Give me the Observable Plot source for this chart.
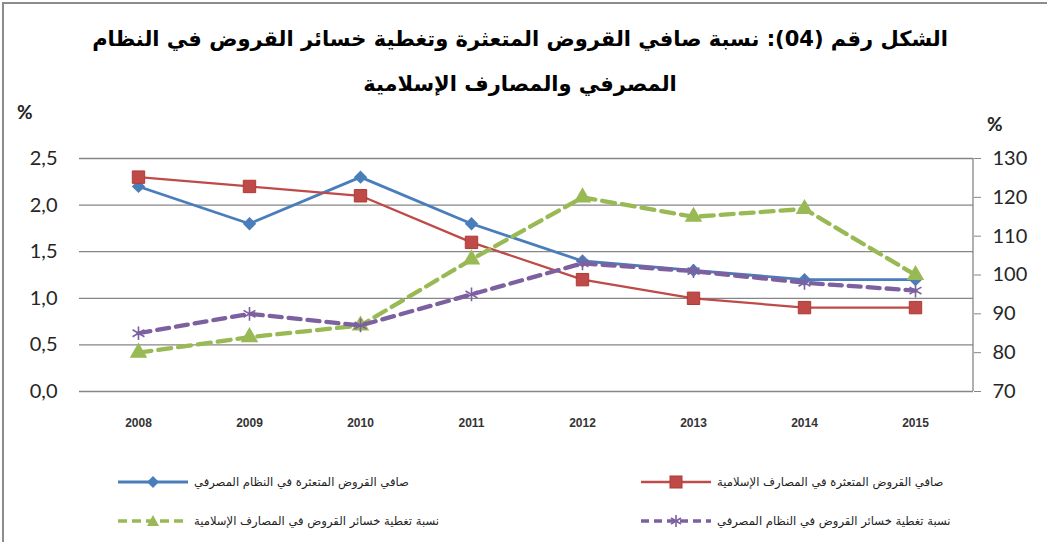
<!DOCTYPE html>
<html><head><meta charset="utf-8">
<script src="https://cdn.jsdelivr.net/npm/d3@7"></script>
<script src="https://cdn.jsdelivr.net/npm/@observablehq/plot@0.6"></script>
<style>
body{margin:0;background:#fff;}
#wrap{position:relative;width:1047px;height:542px;overflow:hidden;background:#fff;}
#frame{position:absolute;left:2px;top:2px;width:1100px;height:600px;border-top:2px solid #8c8c8c;border-left:2px solid #8c8c8c;}
.title{position:absolute;left:0;width:1040px;text-align:center;font-family:"DejaVu Sans";font-weight:bold;font-size:21px;color:#000;direction:rtl;white-space:nowrap;}
.pct{position:absolute;font-family:Lato,"Open Sans",sans-serif;font-weight:bold;font-size:19px;color:#222;}
#chart{position:absolute;left:0;top:100px;}
.leg{position:absolute;display:flex;align-items:center;font-family:"DejaVu Sans";font-size:11.6px;color:#222;white-space:nowrap;}
.leg span{direction:rtl;margin-left:6px;}
</style></head>
<body><div id="wrap">
<div id="frame"></div>
<div class="title" id="t1" style="top:27px"></div>
<div class="title" id="t2" style="top:72px"></div>
<div class="pct" style="left:17px;top:100px">%</div>
<div class="pct" style="left:987px;top:112px">%</div>
<div id="chart"></div>
<div id="legend"></div>
</div>
<script>
const titleLines = ["الشكل رقم (04): نسبة صافي القروض المتعثرة وتغطية خسائر القروض في النظام", "المصرفي والمصارف الإسلامية"];
const years = ["2008","2009","2010","2011","2012","2013","2014","2015"];
const bankNPL = [2.2, 1.8, 2.3, 1.8, 1.4, 1.3, 1.2, 1.2];
const islamicNPL = [2.3, 2.2, 2.1, 1.6, 1.2, 1.0, 0.9, 0.9];
const islamicCoverage = [80, 84, 87, 104, 120, 115, 117, 100];
const bankCoverage = [85, 90, 87, 95, 103, 101, 98, 96];
const leftTicks = [0, 0.5, 1, 1.5, 2, 2.5];
const rightTicks = [70, 80, 90, 100, 110, 120, 130];
const seriesNames = [
  "صافي القروض المتعثرة في النظام المصرفي",
  "صافي القروض المتعثرة في المصارف الإسلامية",
  "نسبة تغطية خسائر القروض في المصارف الإسلامية",
  "نسبة تغطية خسائر القروض في النظام المصرفي"
];
const colors = ["#4a7ebb", "#be4b48", "#98b954", "#7d60a0"];

document.getElementById("t1").textContent = titleLines[0];
document.getElementById("t2").textContent = titleLines[1];

const rMin = rightTicks[0], rMax = rightTicks[rightTicks.length - 1];
const lMax = leftTicks[leftTicks.length - 1];
const toLeft = v => (v - rMin) / (rMax - rMin) * lMax;
const fromLeft = v => Math.round(v / lMax * (rMax - rMin) + rMin);
const rows = (vals, right) => years.map((y, i) => ({year: y, v: right ? toLeft(vals[i]) : vals[i]}));

const s1 = rows(bankNPL, false), s2 = rows(islamicNPL, false), s3 = rows(islamicCoverage, true), s4 = rows(bankCoverage, true);

const rightAxisLine = (index, scales, values, dims) => {
  const x = dims.width - dims.marginRight;
  return d3.create("svg:line").attr("x1", x).attr("x2", x)
    .attr("y1", dims.marginTop).attr("y2", dims.height - dims.marginBottom)
    .attr("stroke", "#868686").attr("stroke-width", 1.3).node();
};

const plot = Plot.plot({
  width: 1047, height: 340,
  marginTop: 58, marginBottom: 49, marginLeft: 79, marginRight: 74,
  x: {type: "point", domain: years, padding: 0.5},
  y: {domain: [0, lMax]},
  style: {background: "transparent", overflow: "visible", fontFamily: "Lato, 'Open Sans', sans-serif", fontSize: "20px", color: "#262626"},
  marks: [
    Plot.ruleY(leftTicks, {stroke: "#868686", strokeWidth: 1.3}),
    rightAxisLine,
    Plot.axisX({tickSize: 0, tickPadding: 27, fontSize: 12, fontWeight: "bold", fontFamily: "Liberation Sans", label: null, fill: "#333"}),
    Plot.axisY(leftTicks, {anchor: "left", tickSize: 0, tickPadding: 22, label: null, tickFormat: d => d.toFixed(1).replace(".", ","), fill: "#262626"}),
    Plot.axisY(rightTicks.map(toLeft), {anchor: "right", tickSize: 7, tickPadding: 12, label: null, tickFormat: fromLeft, stroke: "#868686", fill: "#262626"}),
    Plot.line(s1, {x: "year", y: "v", stroke: colors[0], strokeWidth: 2.8}),
    Plot.dot(s1, {x: "year", y: "v", symbol: "diamond2", fill: colors[0], r: 6}),
    Plot.line(s2, {x: "year", y: "v", stroke: colors[1], strokeWidth: 2.3}),
    Plot.dot(s2, {x: "year", y: "v", symbol: "square", fill: colors[1], stroke: "#b03a37", strokeWidth: 1, r: 7}),
    Plot.line(s3, {x: "year", y: "v", stroke: colors[2], strokeWidth: 4.3, strokeDasharray: "13,7"}),
    Plot.dot(s3, {x: "year", y: "v", symbol: "triangle", fill: colors[2], r: 6.5}),
    Plot.line(s4, {x: "year", y: "v", stroke: colors[3], strokeWidth: 4.3, strokeDasharray: "12,7"}),
    Plot.dot(s4, {x: "year", y: "v", symbol: "asterisk", stroke: colors[3], strokeWidth: 1.6, r: 6.5})
  ]
});
document.getElementById("chart").appendChild(plot);

// legend
const legPos = [[118, 472], [641, 472], [118, 511], [641, 511]];
const swatch = (i) => {
  const c = colors[i];
  const dash = i >= 2 ? ` stroke-dasharray="${i === 2 ? "9,5" : "8,5"}"` : "";
  const w = i >= 2 ? 3.5 : (i === 0 ? 2.8 : 2.3);
  let m = "";
  if (i === 0) m = `<polygon points="35,4 41,10 35,16 29,10" fill="${c}"/>`;
  if (i === 1) m = `<rect x="29" y="4" width="12" height="12" fill="${c}" stroke="#b03a37"/>`;
  if (i === 2) m = `<polygon points="35,4 41,15 29,15" fill="${c}"/>`;
  if (i === 3) m = `<g stroke="${c}" stroke-width="1.6"><line x1="35" y1="4" x2="35" y2="16"/><line x1="30" y1="7" x2="40" y2="13"/><line x1="30" y1="13" x2="40" y2="7"/></g>`;
  return `<svg width="70" height="20"><line x1="0" y1="10" x2="70" y2="10" stroke="${c}" stroke-width="${w}"${dash}/>${m}</svg>`;
};
const legend = document.getElementById("legend");
seriesNames.forEach((name, i) => {
  const d = document.createElement("div");
  d.className = "leg";
  d.style.left = legPos[i][0] + "px";
  d.style.top = legPos[i][1] + "px";
  d.innerHTML = swatch(i);
  const sp = document.createElement("span");
  sp.textContent = name;
  d.appendChild(sp);
  legend.appendChild(d);
});
</script>
</body></html>
